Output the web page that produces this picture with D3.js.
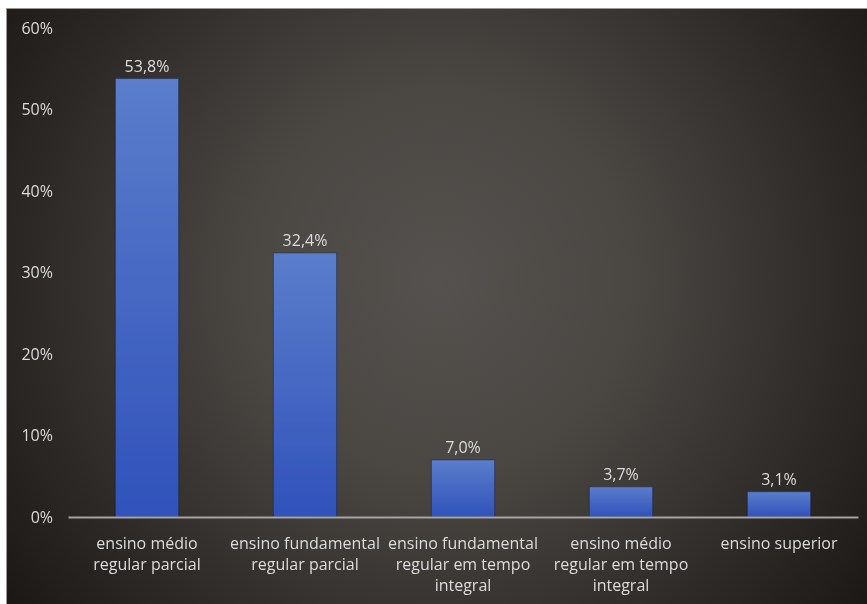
<!DOCTYPE html>
<html>
<head>
<meta charset="utf-8">
<script src="https://cdn.jsdelivr.net/npm/d3@7/dist/d3.min.js"></script>
<style>
  html, body { margin: 0; padding: 0; background: #ffffff; }
  svg { display: block; }
  text { font-family: "Open Sans", "Noto Sans", sans-serif; }
</style>
</head>
<body>
<svg id="chart" width="867" height="604"></svg>
<script>
// Share of respondents by level of schooling
const categories = [
  ["ensino médio", "regular parcial"],
  ["ensino fundamental", "regular parcial"],
  ["ensino fundamental", "regular em tempo", "integral"],
  ["ensino médio", "regular em tempo", "integral"],
  ["ensino superior"]
];
const values = [53.8, 32.4, 7.0, 3.7, 3.1];
const valueLabels = ["53,8%", "32,4%", "7,0%", "3,7%", "3,1%"];
const yTicks = [0, 10, 20, 30, 40, 50, 60];
const yTickLabels = ["0%", "10%", "20%", "30%", "40%", "50%", "60%"];

const W = 867, H = 604;
const svg = d3.select("#chart");
const defs = svg.append("defs");

// Panel background: dark radial vignette
const bg = defs.append("radialGradient")
  .attr("id", "bgGrad")
  .attr("gradientUnits", "userSpaceOnUse")
  .attr("cx", 440).attr("cy", 280).attr("r", 560);
bg.append("stop").attr("offset", "0").attr("stop-color", "#55514e");
bg.append("stop").attr("offset", "0.35").attr("stop-color", "#4a4642");
bg.append("stop").attr("offset", "0.7").attr("stop-color", "#2f2b28");
bg.append("stop").attr("offset", "1").attr("stop-color", "#181512");

// Bar fill: lighter at the top, deeper blue at the bottom
const barGrad = defs.append("linearGradient")
  .attr("id", "barGrad")
  .attr("x1", 0).attr("y1", 0).attr("x2", 0).attr("y2", 1);
barGrad.append("stop").attr("offset", "0").attr("stop-color", "#5b7dcb");
barGrad.append("stop").attr("offset", "1").attr("stop-color", "#3052bb");

const blur = defs.append("filter").attr("id", "soft")
  .attr("x", "-10%").attr("y", "-10%").attr("width", "120%").attr("height", "120%");
blur.append("feGaussianBlur").attr("stdDeviation", 0.5);

svg.append("rect")
  .attr("x", 6.5).attr("y", 8.5)
  .attr("width", W - 6).attr("height", H - 8)
  .attr("fill", "url(#bgGrad)")
  .attr("stroke", "#9a9896").attr("stroke-width", 1);

const plot = { left: 68, right: 858, top: 28, bottom: 517 };
const fontSize = "16px";

const x = d3.scaleBand()
  .domain(d3.range(values.length))
  .range([plot.left, plot.right])
  .paddingInner(0.6)
  .paddingOuter(0.3);

const y = d3.scaleLinear()
  .domain([0, 60])
  .range([plot.bottom, plot.top]);

const g = svg.append("g").attr("filter", "url(#soft)");

// Y axis labels (no axis line, no gridlines)
const yAxis = d3.axisLeft(y)
  .tickValues(yTicks)
  .tickFormat((d, i) => yTickLabels[i])
  .tickSize(0)
  .tickPadding(0);
const yg = g.append("g")
  .attr("transform", `translate(53,0)`)
  .call(yAxis);
yg.select(".domain").remove();
yg.selectAll("text")
  .attr("fill", "#dcdcdc")
  .style("font-size", fontSize)
  .style("font-family", "'Open Sans', 'Noto Sans', sans-serif");

// Bars
g.selectAll("rect.bar")
  .data(values)
  .join("rect")
  .attr("class", "bar")
  .attr("x", (d, i) => x(i))
  .attr("width", x.bandwidth())
  .attr("y", d => y(d))
  .attr("height", d => y(0) - y(d))
  .attr("fill", "url(#barGrad)")
  .attr("stroke", "#1e2a4a")
  .attr("stroke-opacity", 0.5)
  .attr("stroke-width", 1);

// Value labels above bars
g.selectAll("text.val")
  .data(values)
  .join("text")
  .attr("class", "val")
  .attr("x", (d, i) => x(i) + x.bandwidth() / 2)
  .attr("y", d => y(d) - 7)
  .attr("text-anchor", "middle")
  .attr("fill", "#dcdcdc")
  .style("font-size", fontSize)
  .text((d, i) => valueLabels[i]);

// Baseline
const xAxis = d3.axisBottom(x).tickSize(0).tickFormat("");
const xg = g.append("g")
  .attr("transform", `translate(0,${y(0)})`)
  .call(xAxis);
xg.select(".domain")
  .attr("stroke", "#a6a4a2")
  .attr("stroke-width", 2);

// Category labels, wrapped across lines
const cat = g.selectAll("text.cat")
  .data(categories)
  .join("text")
  .attr("class", "cat")
  .attr("text-anchor", "middle")
  .attr("fill", "#dcdcdc")
  .style("font-size", fontSize);
cat.each(function (lines, i) {
  const t = d3.select(this);
  lines.forEach((ln, k) => {
    t.append("tspan")
      .attr("x", x(i) + x.bandwidth() / 2)
      .attr("y", y(0) + 32 + k * 21)
      .text(ln);
  });
});
</script>
</body>
</html>
